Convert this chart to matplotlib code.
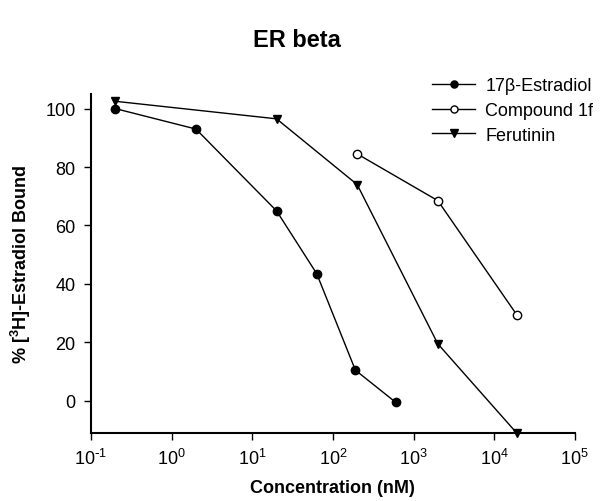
import matplotlib
matplotlib.use("Agg")
import matplotlib.pyplot as plt
from matplotlib.ticker import NullLocator, FixedLocator

plt.rcParams['font.family'] = ['Liberation Sans', 'DejaVu Sans']
plt.rcParams['mathtext.default'] = 'regular'

estradiol_x = [0.2, 2, 20, 63, 190, 600]
estradiol_y = [100, 93, 65, 43.5, 10.5, -0.5]
compound_x = [200, 2000, 19000]
compound_y = [84.5, 68.5, 29.5]
ferutinin_x = [0.2, 20, 200, 2000, 19000]
ferutinin_y = [102.5, 96.5, 74, 19.5, -11]

series_labels = ["17\u03b2-Estradiol", "Compound 1f", "Ferutinin"]
y_ticks = [0, 20, 40, 60, 80, 100]
x_ticks = [1e-1, 1e0, 1e1, 1e2, 1e3, 1e4, 1e5]
x_tick_labels = [r"10$^{\text{-}1}$", r"10$^{0}$", r"10$^{1}$", r"10$^{2}$", r"10$^{3}$", r"10$^{4}$", r"10$^{5}$"]

fig = plt.figure(figsize=(6.0, 5.02), dpi=100)
ax = fig.add_axes([0.1517, 0.1355, 0.8063, 0.6753])

ax.plot(estradiol_x, estradiol_y, color='black', lw=1, marker='o', ms=6,
        mfc='black', mec='black', label=series_labels[0], clip_on=False)
ax.plot(compound_x, compound_y, color='black', lw=1, marker='o', ms=6,
        mfc='white', mec='black', label=series_labels[1], clip_on=False)
ax.plot(ferutinin_x, ferutinin_y, color='black', lw=1, marker='v', ms=6,
        mfc='black', mec='black', label=series_labels[2], clip_on=False)

ax.set_xscale('log')
ax.set_xlim(0.1, 1e5)
ax.set_ylim(-11, 105)
ax.xaxis.set_major_locator(FixedLocator(x_ticks))
ax.xaxis.set_minor_locator(NullLocator())
ax.set_xticklabels(x_tick_labels)
ax.set_yticks(y_ticks)

for s in ['top', 'right']:
    ax.spines[s].set_visible(False)
for s in ['left', 'bottom']:
    ax.spines[s].set_linewidth(1.5)
ax.tick_params(axis='both', direction='out', length=5, width=1, labelsize=13)
ax.tick_params(axis='x', pad=6)
ax.tick_params(axis='y', pad=6)

ax.set_xlabel("Concentration (nM)", fontsize=13, fontweight='bold', labelpad=8)
ax.set_ylabel("% [$^{3}$H]-Estradiol Bound", fontsize=13, fontweight='bold', labelpad=9)

fig.text(0.495, 0.92, "ER beta", ha='center', va='center', fontsize=17, fontweight='bold')

leg = ax.legend(loc='upper left', bbox_to_anchor=(0.69, 1.07), frameon=False,
                fontsize=13, handlelength=2.4, handletextpad=0.55, labelspacing=0.42,
                borderaxespad=0, markerscale=0.85)

fig.savefig("out.png", dpi=100)
